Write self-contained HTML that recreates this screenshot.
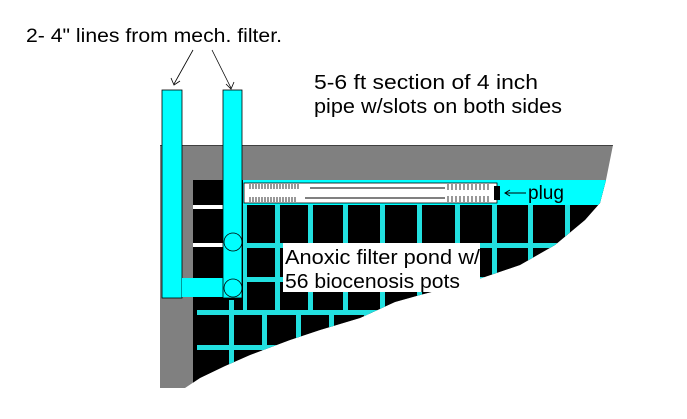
<!DOCTYPE html>
<html><head><style>
html,body{margin:0;padding:0;background:#fff;}
svg{display:block;}
text{font-family:"Liberation Sans",Arial,sans-serif;fill:#000;}
</style></head><body>
<svg width="687" height="419" viewBox="0 0 687 419" xmlns="http://www.w3.org/2000/svg">
<defs>
<clipPath id="tank"><polygon points="160,145 613,145 606,180 600,203 585,220 555,245 520,265 470,282 420,295 395,302 360,318 320,330 290,340 250,355 225,366 200,378 185,388 160,388"/></clipPath>
</defs>
<g clip-path="url(#tank)">
<rect x="160" y="145" width="460" height="250" fill="#808080"/>
<line x1="160" y1="145" x2="613" y2="145" stroke="#000" stroke-width="1"/>
<rect x="193" y="180" width="430" height="215" fill="#000"/>
<rect x="243" y="180" width="380" height="25" fill="#00ffff"/>
<g fill="#22e0e0">
<rect x="243" y="205" width="4" height="107"/>
<rect x="275" y="205" width="5" height="107"/>
<rect x="308" y="205" width="5" height="107"/>
<rect x="343" y="205" width="5" height="107"/>
<rect x="380" y="205" width="5" height="107"/>
<rect x="417" y="205" width="5" height="107"/>
<rect x="455" y="205" width="5" height="107"/>
<rect x="492" y="205" width="5" height="107"/>
<rect x="528" y="205" width="5" height="107"/>
<rect x="565" y="205" width="5" height="107"/>
<rect x="243" y="243" width="380" height="5"/>
<rect x="243" y="277" width="380" height="5"/>
<rect x="197" y="310" width="420" height="5"/>
<rect x="197" y="345" width="420" height="5"/>
<rect x="229" y="300" width="5" height="95"/>
<rect x="262" y="310" width="5" height="85"/>
<rect x="296" y="310" width="5" height="85"/>
<rect x="329" y="310" width="5" height="85"/>
<rect x="364" y="310" width="5" height="85"/>
<rect x="397" y="310" width="5" height="85"/>
</g>
</g>
<rect x="244" y="183" width="253" height="20" fill="#fff" stroke="#000" stroke-width="0.8"/>
<line x1="310" y1="188" x2="445" y2="188" stroke="#000"/>
<line x1="305" y1="198" x2="445" y2="198" stroke="#000"/>
<g stroke="#000" stroke-width="0.8">
<path d="M250 184v5M253 184v5M256 184v5M259 184v5M262 184v5M265 184v5M268 184v5M271 184v5M274 184v5M277 184v5M280 184v5M283 184v5M286 184v5M289 184v5M292 184v5M295 184v5M298 184v5M250 197v5M253 197v5M256 197v5M259 197v5M262 197v5M265 197v5M268 197v5M271 197v5M274 197v5M277 197v5M280 197v5M283 197v5M286 197v5M289 197v5M292 197v5M295 197v5"/>
<path d="M448 184v6M452 184v6M456 184v6M460 184v6M464 184v6M468 184v6M472 184v6M476 184v6M480 184v6M484 184v6M488 184v6M448 196v6M452 196v6M456 196v6M460 196v6M464 196v6M468 196v6M472 196v6M476 196v6M480 196v6M484 196v6M488 196v6"/>
</g>
<rect x="494" y="186" width="6" height="14" fill="#000"/>
<line x1="505" y1="193" x2="526" y2="193" stroke="#000"/>
<path d="M510 190 L505 193 L510 196" fill="none" stroke="#000"/>
<text x="528" y="199" font-size="19">plug</text>
<rect x="193" y="180" width="30" height="102" fill="#000"/>
<rect x="193" y="205" width="30" height="4" fill="#fff"/>
<rect x="193" y="243" width="30" height="4" fill="#fff"/>
<rect x="162" y="90" width="20" height="208" fill="#00ffff" stroke="#000" stroke-width="0.8"/>
<rect x="182" y="278" width="41" height="19" fill="#00ffff"/>
<rect x="223" y="90" width="19" height="208" fill="#00ffff" stroke="#000" stroke-width="0.8"/>
<circle cx="233" cy="242" r="9" fill="none" stroke="#000" stroke-width="0.8"/>
<circle cx="233" cy="288" r="9" fill="none" stroke="#000" stroke-width="0.8"/>
<rect x="283" y="243" width="197" height="49" fill="#fff"/>
<text x="285" y="264" font-size="20" textLength="195" lengthAdjust="spacingAndGlyphs">Anoxic filter pond w/</text>
<text x="285" y="288" font-size="20" textLength="175" lengthAdjust="spacingAndGlyphs">56 biocenosis pots</text>
<text x="26" y="42" font-size="19" textLength="256" lengthAdjust="spacingAndGlyphs">2- 4" lines from mech. filter.</text>
<line x1="193" y1="50" x2="174" y2="84" stroke="#000" stroke-width="0.8"/>
<path d="M171 78 L174 85 L180 81" fill="none" stroke="#000" stroke-width="0.8"/>
<line x1="212" y1="50" x2="231" y2="88" stroke="#000" stroke-width="0.8"/>
<path d="M226 84 L231 89 L234 82" fill="none" stroke="#000" stroke-width="0.8"/>
<text x="314" y="89" font-size="20" textLength="224" lengthAdjust="spacingAndGlyphs">5-6 ft section of 4 inch</text>
<text x="314" y="113" font-size="20" textLength="248" lengthAdjust="spacingAndGlyphs">pipe w/slots on both sides</text>
</svg>
</body></html>
